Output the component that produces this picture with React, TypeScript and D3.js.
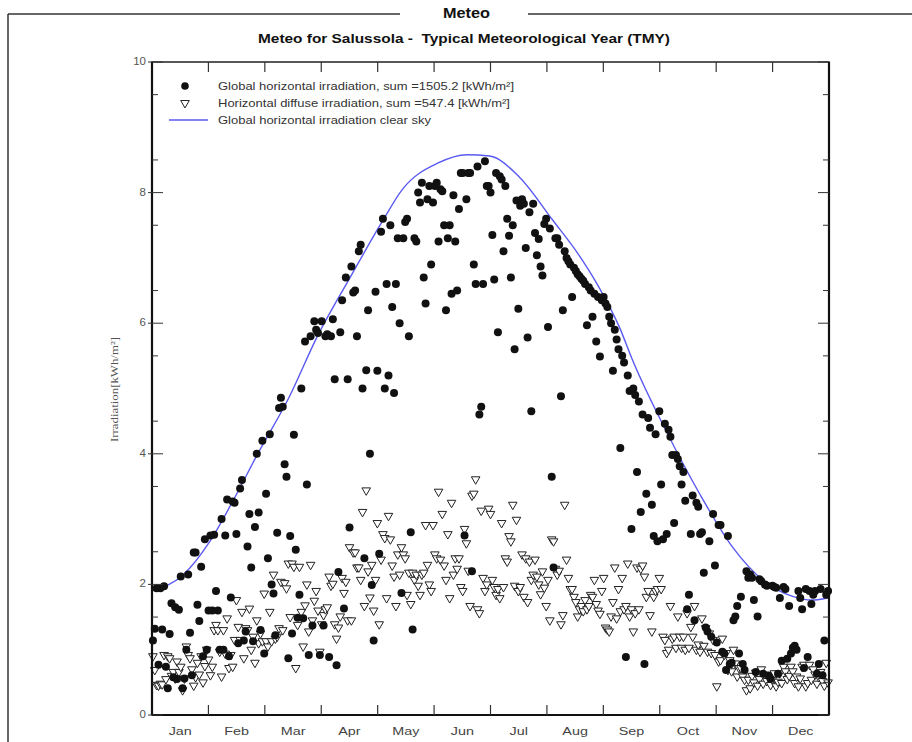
import React from 'react';
import * as d3 from 'd3';

// month labels and y ticks
const months = ['Jan', 'Feb', 'Mar', 'Apr', 'May', 'Jun', 'Jul', 'Aug', 'Sep', 'Oct', 'Nov', 'Dec'];
const yTicks = [0, 2, 4, 6, 8, 10];

// daily global horizontal irradiation [kWh/m2], read month by month
const globalJan = [1.14, 1.32, 1.94, 0.77, 1.94, 1.31, 1.97, 0.74, 0.41, 1.24, 1.71, 0.58, 1.65, 0.55, 1.61, 2.12, 0.41, 0.56, 1.0, 2.15, 1.26, 0.61, 2.49, 2.49, 1.69, 1.44, 2.27, 0.9, 2.69, 1.0, 1.6];
const globalFeb = [2.75, 1.6, 2.76, 1.9, 1.6, 1.0, 3.0, 1.0, 2.75, 3.3, 0.9, 1.8, 3.27, 3.25, 2.77, 1.1, 3.47, 3.6, 1.14, 1.28, 2.58, 3.08, 2.26, 1.13, 2.88, 4.0, 3.1, 1.3];
const globalMar = [4.2, 0.94, 3.39, 2.4, 4.3, 2.0, 1.86, 1.22, 2.79, 4.7, 4.86, 4.72, 3.84, 3.65, 0.87, 2.74, 1.25, 4.29, 2.53, 1.49, 1.84, 5.0, 1.48, 5.72, 3.53, 0.92, 5.8, 1.37, 6.03, 5.9, 5.85];
const globalApr = [0.92, 6.03, 1.37, 5.8, 5.83, 0.89, 5.8, 6.06, 5.14, 0.76, 2.19, 5.86, 6.35, 1.63, 6.7, 5.14, 2.87, 6.87, 6.47, 6.5, 5.8, 7.1, 7.2, 5.0, 2.4, 5.28, 6.2, 4.0, 1.99, 1.14];
const globalMay = [6.48, 5.27, 2.47, 7.4, 7.6, 5.0, 6.6, 5.2, 7.5, 6.25, 4.93, 6.6, 7.3, 6.0, 1.87, 7.3, 7.55, 7.6, 5.8, 2.8, 1.31, 7.3, 7.25, 8.0, 7.85, 8.15, 6.7, 6.3, 7.9, 8.1, 6.9];
const globalJun = [7.85, 8.1, 8.15, 7.25, 8.05, 8.02, 7.5, 6.2, 7.3, 7.5, 6.45, 7.96, 7.25, 6.5, 7.75, 8.3, 8.3, 2.75, 7.9, 8.3, 8.3, 2.2, 6.9, 6.6, 8.4, 4.6, 4.72, 6.6, 8.48, 8.1];
const globalJul = [8.1, 8.0, 7.35, 6.67, 8.3, 5.86, 8.25, 8.2, 7.1, 8.1, 7.6, 7.34, 6.7, 7.5, 5.6, 7.88, 6.22, 7.8, 7.9, 7.83, 7.15, 5.78, 7.7, 4.65, 7.83, 7.38, 7.04, 7.29, 6.87, 6.73, 7.52];
const globalAug = [7.6, 5.94, 7.45, 3.65, 2.26, 7.3, 7.3, 7.2, 4.88, 6.2, 7.1, 7.0, 6.95, 6.9, 6.4, 6.85, 6.8, 6.75, 6.72, 6.68, 6.65, 6.6, 5.97, 6.55, 6.5, 6.1, 6.45, 5.72, 6.4, 5.49, 6.35];
const globalSep = [6.4, 6.3, 6.25, 6.1, 6.0, 5.27, 5.9, 5.75, 5.6, 4.09, 5.5, 5.4, 0.89, 5.2, 4.96, 2.85, 5.0, 4.9, 3.72, 4.8, 3.11, 4.6, 0.78, 3.39, 4.55, 4.4, 3.22, 2.74, 4.3, 2.66];
const globalOct = [4.65, 3.53, 2.69, 4.46, 2.77, 4.37, 4.26, 3.98, 2.94, 3.98, 3.92, 3.81, 3.53, 3.72, 3.28, 1.62, 1.84, 2.77, 3.36, 1.45, 3.25, 3.19, 2.77, 2.8, 2.18, 1.34, 1.28, 2.66, 1.2, 3.08, 2.29];
const globalNov = [1.11, 2.91, 2.91, 0.97, 0.94, 0.69, 2.74, 0.78, 0.8, 1.45, 1.51, 1.67, 0.94, 1.81, 0.78, 0.69, 2.2, 2.1, 2.15, 2.1, 1.76, 0.66, 1.51, 2.08, 2.05, 0.63, 2.0, 1.98, 0.6, 0.55];
const globalDec = [1.98, 1.96, 1.95, 0.63, 1.79, 0.83, 1.96, 1.93, 0.86, 1.67, 0.94, 1.03, 1.06, 1.0, 1.9, 1.79, 1.62, 0.72, 1.93, 0.89, 1.9, 1.7, 1.84, 1.9, 0.63, 0.78, 1.93, 0.61, 1.14, 1.84, 1.9];

// daily horizontal diffuse irradiation [kWh/m2]
const diffuseJan = [0.9, 0.69, 0.46, 0.45, 0.48, 0.47, 0.92, 0.55, 0.9, 0.87, 0.6, 0.66, 0.56, 0.82, 0.66, 0.74, 0.38, 0.56, 1.05, 0.92, 0.87, 0.7, 0.45, 0.58, 0.8, 0.62, 0.9, 0.5, 0.75, 1.0, 0.85];
const diffuseFeb = [0.61, 0.74, 1.3, 1.38, 1.3, 0.97, 0.59, 1.3, 0.94, 1.48, 0.72, 0.92, 0.74, 1.15, 1.76, 1.35, 1.15, 1.58, 0.87, 1.33, 1.3, 1.63, 1.0, 1.2, 0.8, 1.45, 1.1, 1.25];
const diffuseMar = [1.13, 1.86, 1.13, 1.05, 1.58, 1.13, 2.15, 1.17, 1.2, 1.33, 2.04, 1.3, 2.02, 1.94, 2.32, 1.5, 2.32, 2.27, 0.72, 1.38, 2.27, 1.58, 1.05, 1.68, 2.0, 1.28, 2.3, 1.45, 1.75, 1.9, 1.6];
const diffuseApr = [0.97, 1.39, 1.53, 1.62, 1.65, 2.12, 1.98, 2.01, 1.39, 1.17, 1.34, 1.51, 2.1, 1.87, 2.04, 1.45, 2.57, 1.45, 2.49, 2.49, 2.26, 2.26, 2.07, 3.11, 1.67, 3.44, 2.2, 1.8, 2.3, 1.6];
const diffuseMay = [2.07, 2.94, 1.39, 2.38, 2.77, 2.71, 1.79, 3.05, 2.69, 2.29, 2.12, 1.67, 2.46, 2.15, 2.57, 2.46, 2.4, 1.84, 2.18, 1.7, 2.18, 2.07, 2.15, 1.98, 1.84, 2.15, 2.18, 2.91, 2.3, 2.0, 1.9];
const diffuseJun = [2.91, 2.46, 2.4, 3.42, 2.38, 3.08, 2.29, 2.07, 2.77, 1.79, 3.25, 2.15, 2.4, 2.24, 2.4, 1.96, 1.9, 2.85, 2.63, 2.21, 1.67, 3.36, 3.39, 3.61, 1.62, 1.56, 3.13, 2.1, 1.9, 2.0];
const diffuseJul = [3.16, 3.08, 2.07, 1.96, 1.84, 1.93, 1.79, 2.94, 1.96, 2.4, 2.35, 2.74, 2.66, 3.22, 1.98, 2.99, 1.9, 1.96, 2.46, 1.81, 2.4, 1.73, 2.35, 2.07, 2.15, 2.38, 2.12, 2.0, 1.85, 2.2, 1.95];
const diffuseAug = [1.67, 2.07, 1.45, 2.69, 2.66, 2.24, 2.15, 2.21, 1.39, 1.53, 3.22, 2.38, 2.1, 1.93, 1.93, 1.81, 1.73, 1.51, 1.62, 1.67, 1.59, 1.76, 1.62, 1.67, 1.84, 1.81, 2.07, 1.7, 1.6, 1.55, 1.9];
const diffuseSep = [2.1, 1.34, 1.31, 1.28, 1.51, 1.73, 2.26, 1.48, 1.93, 1.59, 2.1, 1.62, 1.67, 2.32, 1.51, 1.62, 1.28, 1.56, 2.26, 1.62, 2.24, 2.29, 2.12, 1.81, 1.9, 1.53, 1.28, 1.81, 1.9, 1.93];
const diffuseOct = [2.1, 1.93, 1.2, 1.15, 0.95, 1.0, 1.67, 1.17, 1.2, 1.03, 1.51, 1.2, 1.03, 1.2, 1.0, 1.56, 1.03, 1.35, 1.2, 1.67, 1.0, 1.08, 0.97, 1.48, 1.06, 1.33, 0.97, 1.25, 0.95, 1.15, 0.92];
const diffuseNov = [0.44, 0.82, 0.84, 1.17, 0.92, 0.95, 0.69, 0.84, 0.67, 1.0, 0.79, 0.59, 0.72, 0.72, 0.59, 0.54, 0.38, 0.54, 0.41, 0.6, 0.5, 0.65, 0.45, 0.55, 0.7, 0.48, 0.62, 0.52, 0.58, 0.46];
const diffuseDec = [0.54, 0.64, 0.44, 0.51, 0.64, 0.49, 0.74, 0.67, 0.55, 0.6, 0.74, 0.67, 0.49, 0.59, 0.44, 0.56, 0.74, 0.77, 0.44, 0.49, 0.77, 0.54, 0.7, 0.62, 0.48, 0.58, 0.66, 0.52, 0.45, 0.8, 0.5];

// clear sky curve, sampled at day of year
const clearSkyDays = [0, 17, 31, 45, 57, 74, 89, 107, 124, 135, 154, 170, 182, 198, 216, 230, 241, 252, 259, 277, 295, 313, 330, 345, 356, 365];
const clearSkyValues = [1.9, 2.15, 2.65, 3.35, 4.0, 4.87, 5.79, 6.71, 7.55, 8.05, 8.45, 8.58, 8.56, 8.24, 7.58, 7.05, 6.55, 5.94, 5.44, 4.36, 3.4, 2.57, 2.05, 1.82, 1.76, 1.8];

const globalDaily = [
  ...globalJan, ...globalFeb, ...globalMar, ...globalApr, ...globalMay, ...globalJun,
  ...globalJul, ...globalAug, ...globalSep, ...globalOct, ...globalNov, ...globalDec,
];
const diffuseDaily = [
  ...diffuseJan, ...diffuseFeb, ...diffuseMar, ...diffuseApr, ...diffuseMay, ...diffuseJun,
  ...diffuseJul, ...diffuseAug, ...diffuseSep, ...diffuseOct, ...diffuseNov, ...diffuseDec,
];

const sans = '"Liberation Sans", Arial, sans-serif';

export default function App() {
  const W = 912;
  const H = 742;
  const left = 152, right = 829, top = 62, bottom = 715;

  const x = d3.scaleLinear().domain([0, 365]).range([left, right]);
  const xm = d3.scaleLinear().domain([0, 12]).range([left, right]);
  const y = d3.scaleLinear().domain([0, 10]).range([bottom, top]);

  const clearLine = d3
    .line<number>()
    .x((_, i) => x(clearSkyDays[i]))
    .y((d) => y(d))
    .curve(d3.curveMonotoneX)(clearSkyValues);

  const tri = d3.symbol().type(d3.symbolTriangle).size(32)();
  const minorY = d3.range(1, 20, 2).map((k) => k / 2);
  const monthBounds = d3.range(1, 12);

  return (
    <svg
      width={W}
      height={H}
      style={{ position: 'absolute', left: 0, top: 0, background: '#fff' }}
      fontFamily={sans}
    >
      <rect width={W} height={H} fill="#fff" />

      {/* page frame with header */}
      <line x1={8} y1={14} x2={400} y2={14} stroke="#333" strokeWidth={1.5} />
      <line x1={528} y1={14} x2={W} y2={14} stroke="#333" strokeWidth={1.5} />
      <line x1={8} y1={14} x2={8} y2={H} stroke="#333" strokeWidth={1.5} />
      <text x={443} y={14} dominantBaseline="middle" fontSize={14} fontWeight="bold" fill="#111"
        textLength={47} lengthAdjust="spacingAndGlyphs">
        Meteo
      </text>
      <text x={258} y={43} fontSize={13} fontWeight="bold" fill="#111" xmlSpace="preserve"
        textLength={412} lengthAdjust="spacingAndGlyphs" style={{ whiteSpace: 'pre' }}>
        {'Meteo for Salussola -  Typical Meteorological Year (TMY)'}
      </text>

      {/* clear sky */}
      <path d={clearLine ?? ''} fill="none" stroke="#5a5af2" strokeWidth={1.4} />

      {/* diffuse */}
      {diffuseDaily.map((v, i) => (
        <path
          key={'d' + i}
          d={tri ?? ''}
          transform={`translate(${x(i + 0.5)},${y(v)}) rotate(180)`}
          fill="#fff"
          stroke="#222"
          strokeWidth={1}
        />
      ))}

      {/* global */}
      {globalDaily.map((v, i) => (
        <circle key={'g' + i} cx={x(i + 0.5)} cy={y(v)} r={4} fill="#111" />
      ))}

      {/* axes frame */}
      <rect x={left} y={top} width={right - left} height={bottom - top} fill="none" stroke="#222" strokeWidth={1.5} />
      <line x1={left} y1={top} x2={left} y2={bottom} stroke="#111" strokeWidth={2.2} />
      <line x1={left} y1={bottom} x2={right} y2={bottom} stroke="#111" strokeWidth={2.2} />
      <line x1={right} y1={top} x2={right} y2={bottom} stroke="#111" strokeWidth={2.2} />

      {/* y ticks */}
      {yTicks.map((t) => (
        <g key={'yt' + t}>
          <line x1={left - 4} x2={left + 11} y1={y(t)} y2={y(t)} stroke="#333" strokeWidth={1} />
          <line x1={right - 11} x2={right} y1={y(t)} y2={y(t)} stroke="#333" strokeWidth={1} />
          <text x={left - 6} y={y(t)} textAnchor="end" dominantBaseline="middle" fontSize={11.5} fill="#555">
            {t}
          </text>
        </g>
      ))}
      {minorY.map((t) => (
        <g key={'ym' + t}>
          <line x1={left} x2={left + 6} y1={y(t)} y2={y(t)} stroke="#333" strokeWidth={1} />
          <line x1={right - 6} x2={right} y1={y(t)} y2={y(t)} stroke="#333" strokeWidth={1} />
        </g>
      ))}

      {/* month ticks */}
      {monthBounds.map((m) => (
        <g key={'mt' + m}>
          <line x1={xm(m)} x2={xm(m)} y1={bottom} y2={bottom - 10} stroke="#333" strokeWidth={1.2} />
          <line x1={xm(m)} x2={xm(m)} y1={top} y2={top + 10} stroke="#333" strokeWidth={1.2} />
        </g>
      ))}
      {months.map((m, i) => (
        <text key={m} transform={`translate(${xm(i + 0.5)},735) scale(1.25,1)`} textAnchor="middle" fontSize={11.5} fill="#444">
          {m}
        </text>
      ))}

      {/* y label */}
      <text
        transform={`translate(118,390) rotate(-90)`}
        x={-52}
        fontSize={10}
        fontFamily='"Liberation Serif", "Times New Roman", serif'
        fill="#555"
        textLength={105}
        lengthAdjust="spacingAndGlyphs"
      >
        Irradiation[kWh/m²]
      </text>

      {/* legend */}
      <circle cx={185} cy={86} r={3.8} fill="#111" />
      <path d={tri ?? ''} transform="translate(185,103) rotate(180)" fill="#fff" stroke="#222" strokeWidth={1} />
      <line x1={169} x2={208} y1={120} y2={120} stroke="#5a5af2" strokeWidth={1.4} />
      <g fontSize={11.5} fill="#333">
        <text x={218} y={90} textLength={296} lengthAdjust="spacingAndGlyphs">
          Global horizontal irradiation, sum =1505.2 [kWh/m²]
        </text>
        <text x={218} y={107} textLength={292} lengthAdjust="spacingAndGlyphs">
          Horizontal diffuse irradiation, sum =547.4 [kWh/m²]
        </text>
        <text x={218} y={124} textLength={213} lengthAdjust="spacingAndGlyphs">
          Global horizontal irradiation clear sky
        </text>
      </g>
    </svg>
  );
}
